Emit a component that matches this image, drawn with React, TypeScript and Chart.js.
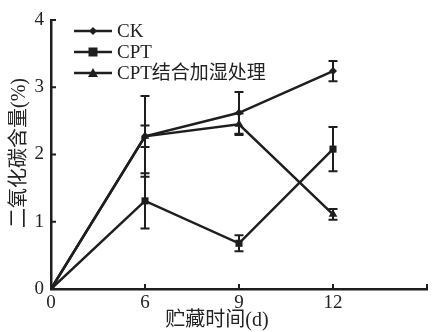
import React, { useEffect, useRef } from "react";
import { Chart, registerables } from "chart.js";

Chart.register(...registerables);

const categories = ["0", "6", "9", "12"];
const ckValues = [0, 2.27, 2.62, 3.24];
const ckErrors = [0, 0.6, 0.31, 0.15];
const cptValues = [0, 1.31, 0.68, 2.08];
const cptErrors = [0, 0.41, 0.12, 0.33];
const humidValues = [0, 2.27, 2.45, 1.11];
const humidErrors = [0, 0.16, 0.16, 0.08];
const seriesNames = ["CK", "CPT", "CPT结合加湿处理"];
const xTitle = "贮藏时间(d)";
const yTitle = "二氧化碳含量(%)";
const yTicks = [0, 1, 2, 3, 4];

const INK = "#1e1e1e";
const FONT = "'Liberation Serif', 'Noto Sans CJK SC', serif";

const errorBarPlugin = {
  id: "errorBars",
  afterDatasetsDraw(chart: any) {
    const ctx = chart.ctx;
    const xs = chart.scales.x;
    const ys = chart.scales.y;
    ctx.save();
    ctx.strokeStyle = INK;
    ctx.lineWidth = 2;
    chart.data.datasets.forEach((ds: any) => {
      const errs: number[] = ds.errors || [];
      ds.data.forEach((p: any, i: number) => {
        const e = errs[i];
        if (!e) return;
        const x = xs.getPixelForValue(p.x);
        const yt = ys.getPixelForValue(p.y + e);
        const yb = ys.getPixelForValue(p.y - e);
        ctx.beginPath();
        ctx.moveTo(x, yt);
        ctx.lineTo(x, yb);
        ctx.moveTo(x - 4.5, yt);
        ctx.lineTo(x + 4.5, yt);
        ctx.moveTo(x - 4.5, yb);
        ctx.lineTo(x + 4.5, yb);
        ctx.stroke();
      });
    });
    ctx.restore();
  },
};

const decorPlugin = {
  id: "decor",
  afterDraw(chart: any) {
    const ctx = chart.ctx;
    const xs = chart.scales.x;
    const ys = chart.scales.y;
    const area = chart.chartArea;
    ctx.save();
    ctx.strokeStyle = INK;
    ctx.lineWidth = 2;
    ctx.beginPath();
    for (let i = 1; i <= categories.length; i++) {
      const x = xs.getPixelForValue(i);
      ctx.moveTo(x, area.bottom);
      ctx.lineTo(x, area.bottom - 5);
    }
    yTicks.forEach((v) => {
      if (v === 0) return;
      const y = ys.getPixelForValue(v);
      ctx.moveTo(area.left, y);
      ctx.lineTo(area.left + 5, y);
    });
    ctx.stroke();
    ctx.fillStyle = "#222";
    ctx.font = "20px " + FONT;
    ctx.textAlign = "center";
    ctx.textBaseline = "middle";
    ctx.fillText(xTitle, 217, 321);
    ctx.translate(20, 153);
    ctx.rotate(-Math.PI / 2);
    ctx.fillText(yTitle, 0, 0);
    ctx.restore();
  },
};

function drawMarker(ctx: any, style: string, x: number, y: number) {
  ctx.beginPath();
  if (style === "rectRot") {
    const r = 4;
    ctx.moveTo(x, y - r);
    ctx.lineTo(x + r, y);
    ctx.lineTo(x, y + r);
    ctx.lineTo(x - r, y);
    ctx.closePath();
  } else if (style === "rect") {
    ctx.rect(x - 4.5, y - 4.5, 9, 9);
  } else {
    ctx.moveTo(x, y - 5);
    ctx.lineTo(x + 5, y + 4);
    ctx.lineTo(x - 5, y + 4);
    ctx.closePath();
  }
  ctx.fill();
}

const legendPlugin = {
  id: "customLegend",
  afterDraw(chart: any) {
    const ctx = chart.ctx;
    const rows = [31, 52, 73];
    ctx.save();
    chart.data.datasets.forEach((ds: any, i: number) => {
      const y = rows[i];
      ctx.strokeStyle = INK;
      ctx.fillStyle = INK;
      ctx.lineWidth = 2.5;
      ctx.beginPath();
      ctx.moveTo(74, y);
      ctx.lineTo(112, y);
      ctx.stroke();
      drawMarker(ctx, ds.pointStyle, 93, y);
      ctx.font = "19px " + FONT;
      ctx.textBaseline = "middle";
      ctx.textAlign = "left";
      ctx.fillStyle = "#222";
      ctx.fillText(ds.label, 117, y + 1);
    });
    ctx.restore();
  },
};

export default function App() {
  const ref = useRef<HTMLCanvasElement>(null);
  useEffect(() => {
    if (!ref.current) return;
    const mk = (vals: number[]) => vals.map((v, i) => ({ x: i, y: v }));
    const common = {
      borderColor: INK,
      backgroundColor: INK,
      borderWidth: 2.5,
      pointBorderWidth: 0,
      tension: 0,
    };
    const chart = new Chart(ref.current, {
      type: "line",
      data: {
        datasets: [
          { ...common, label: seriesNames[0], data: mk(ckValues), errors: ckErrors, pointStyle: "rectRot", pointRadius: 4 } as any,
          { ...common, label: seriesNames[1], data: mk(cptValues), errors: cptErrors, pointStyle: "rect", pointRadius: 5 } as any,
          { ...common, label: seriesNames[2], data: mk(humidValues), errors: humidErrors, pointStyle: "triangle", pointRadius: 5 } as any,
        ],
      },
      options: {
        animation: false,
        responsive: false,
        maintainAspectRatio: false,
        layout: { padding: { top: 20, right: 1, left: 0, bottom: 0 } },
        plugins: { legend: { display: false }, tooltip: { enabled: false } },
        scales: {
          x: {
            type: "linear",
            min: 0,
            max: 4,
            border: { color: INK, width: 2.5 },
            grid: { display: false, drawTicks: false },
            ticks: {
              stepSize: 1,
              color: "#222",
              padding: 3,
              font: { family: FONT, size: 19 },
              callback: (v: any) => (categories[v] !== undefined ? categories[v] : ""),
            },
            afterFit: (s: any) => {
              s.height = 43;
            },
          },
          y: {
            min: 0,
            max: 4,
            border: { color: INK, width: 2.5 },
            grid: { display: false, drawTicks: false },
            ticks: {
              stepSize: 1,
              color: "#222",
              padding: 7,
              font: { family: FONT, size: 19 },
            },
            afterFit: (s: any) => {
              s.width = 51;
            },
          },
        },
      },
      plugins: [errorBarPlugin, decorPlugin, legendPlugin],
    } as any);
    return () => chart.destroy();
  }, []);
  return (
    <div style={{ position: "absolute", left: 0, top: 0, width: 432, height: 332, background: "#fff" }}>
      <canvas ref={ref} width={432} height={332} style={{ display: "block" }} />
    </div>
  );
}
